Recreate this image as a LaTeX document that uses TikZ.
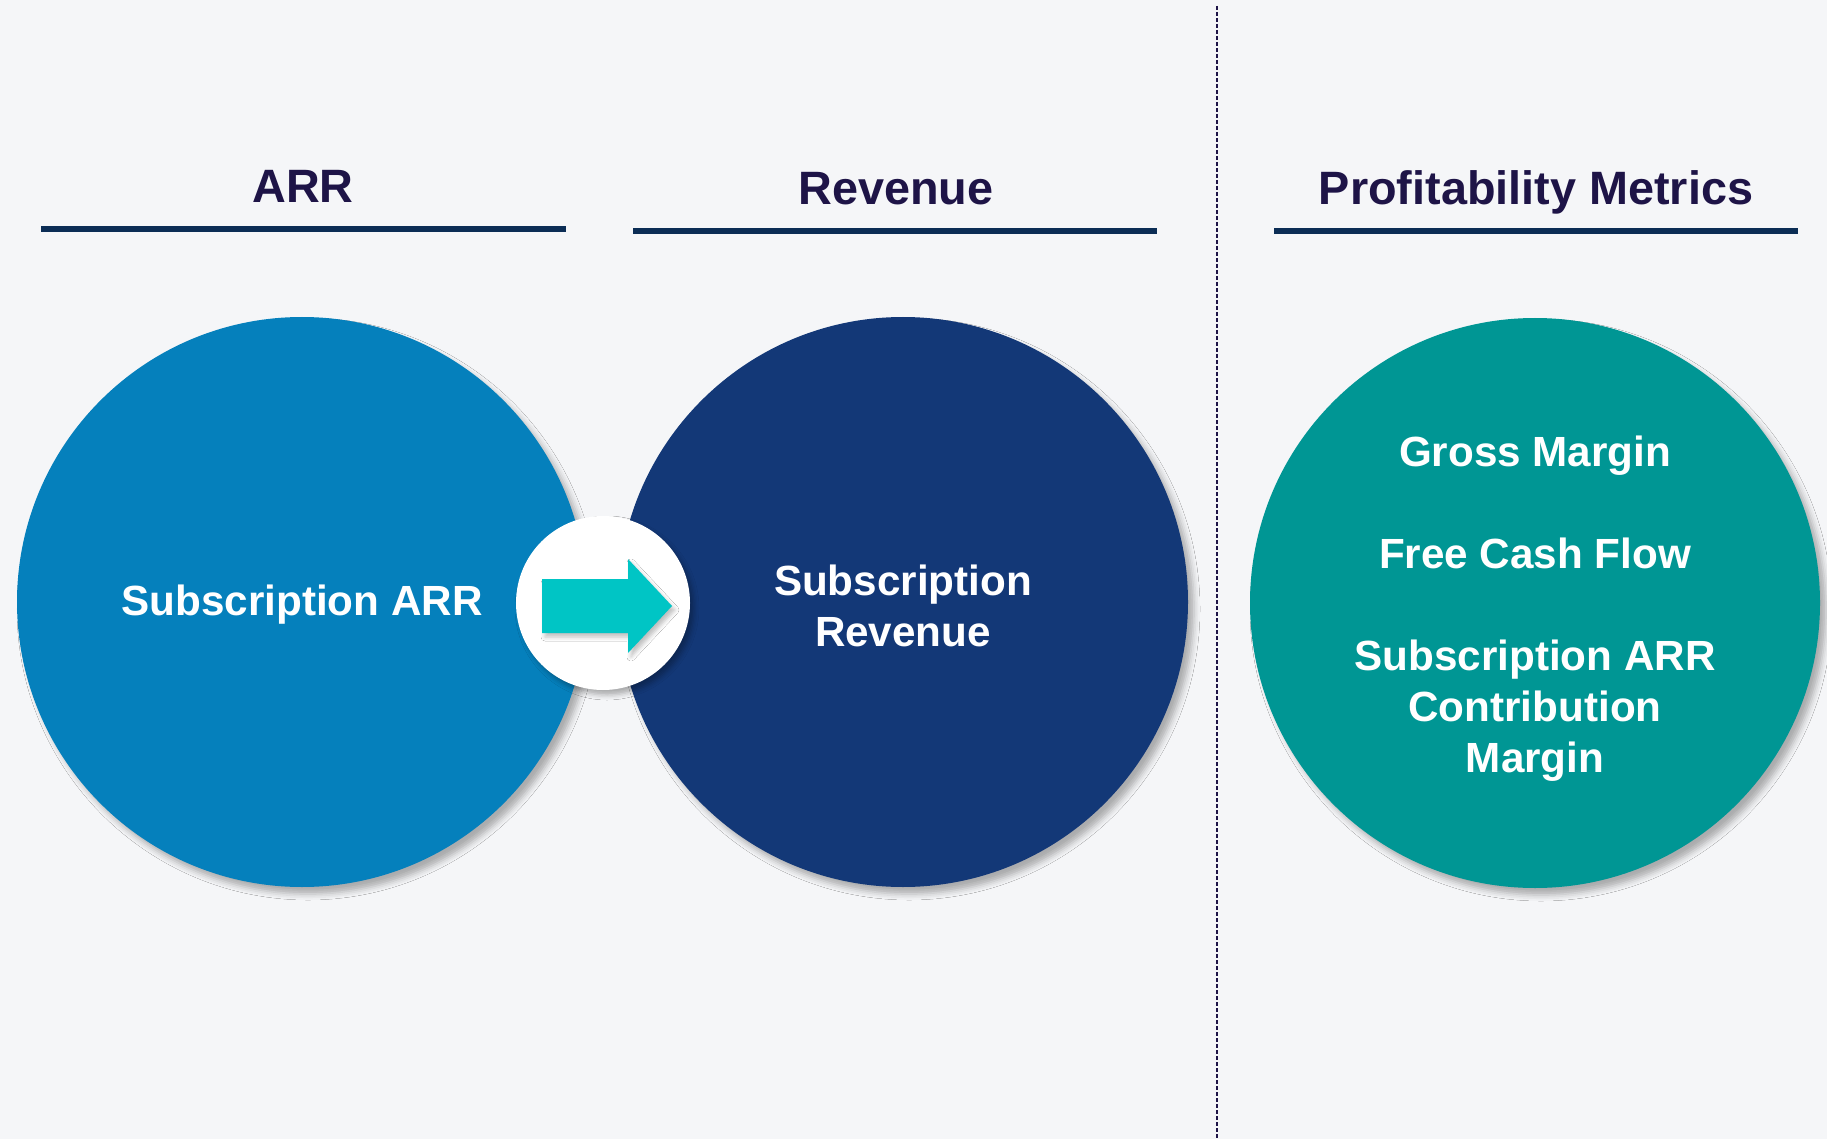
\documentclass[tikz,border=0pt]{standalone}
\usepackage{fontspec}
\setmainfont{Liberation Sans}
\usetikzlibrary{shadows.blur}
\definecolor{bgcol}{HTML}{F5F6F8}
\definecolor{titlecol}{HTML}{1E1447}
\definecolor{rulecol}{HTML}{0B2D55}
\definecolor{arrcol}{HTML}{0580BC}
\definecolor{revcol}{HTML}{133877}
\definecolor{profcol}{HTML}{009694}
\definecolor{tealcol}{HTML}{00C5C5}
\begin{document}
\begin{tikzpicture}[x=0.5pt,y=-0.5pt,
	bigdot/.style={circle,minimum size=285pt,inner sep=0pt,
		blur shadow={shadow xshift=3pt,shadow yshift=-3.5pt,shadow blur radius=3pt,shadow opacity=30}},
	dottext/.style={text=white,align=center,font=\bfseries\fontsize{21.1}{25.5}\selectfont},
	head/.style={anchor=base,text=titlecol,font=\bfseries\fontsize{23.4}{28}\selectfont},
	rule/.style={draw=rulecol,line width=3pt}]
	\fill[bgcol] (0,0) rectangle (1827,1139);
	\useasboundingbox (0,0) rectangle (1827,1139);
	% headers
	\node[head] (tarr) at (303,203) {ARR};
	\node[head] (trev) at (896,205) {Revenue};
	\node[head] (tprof) at (1536,205) {Profitability Metrics};
	\draw[rule] (41,229)--(566,229);
	\draw[rule] (633,231)--(1157,231);
	\draw[rule] (1274,231)--(1798,231);
	% divider
	\draw[titlecol,line width=1pt,dash pattern=on 2pt off 1pt] (1217,6)--(1217,1139);
	% circles
	\node[bigdot,fill=arrcol] (arr) at (302,602) {};
	\node[bigdot,fill=revcol] (rev) at (903,602) {};
	\node[bigdot,fill=profcol] (prof) at (1535,603) {};
	\node[dottext] (arrtxt) at ([yshift=-1.5pt]arr.center) {Subscription ARR};
	\node[dottext] (revtxt) at ([yshift=-2pt]rev.center) {Subscription\\Revenue};
	\node[dottext] (proftxt) at ([yshift=-3pt]prof.center) {Gross Margin\\[25.5pt]Free Cash Flow\\[25.5pt]Subscription ARR\\Contribution\\Margin};
	\node[circle,fill=white,minimum size=87pt,inner sep=0pt,
		blur shadow={shadow xshift=2pt,shadow yshift=-2.5pt,shadow blur radius=2.5pt,shadow opacity=30}] (hub) at (603,603) {};
	\begin{scope}[shift={(hub.center)}]
		\fill[tealcol,blur shadow={shadow xshift=1.5pt,shadow yshift=-2pt,shadow blur radius=2pt,shadow opacity=25}]
			(-61,-24)--(25,-24)--(25,-44)--(69,3)--(25,50)--(25,30)--(-61,30)--cycle;
	\end{scope}
\end{tikzpicture}
\end{document}
